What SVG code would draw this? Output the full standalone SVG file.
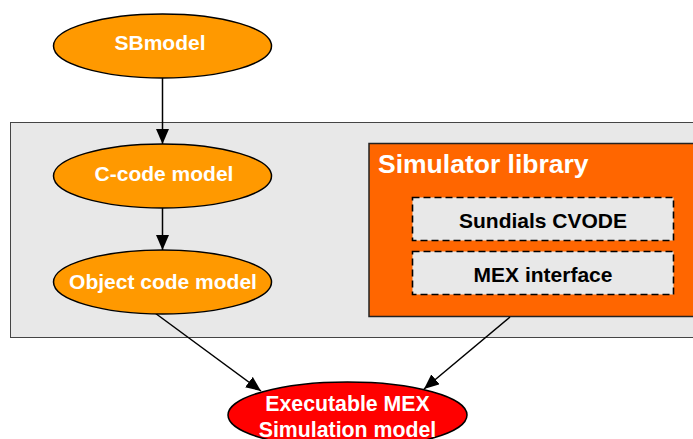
<svg xmlns="http://www.w3.org/2000/svg" width="693" height="439" viewBox="0 0 693 439">
<defs>
<style>
.ell{fill:#FF9900;stroke:#000;stroke-width:1.5}
.wt{font-family:"Liberation Sans",Arial,sans-serif;font-weight:bold;fill:#fff;text-anchor:middle}
.bt{font-family:"Liberation Sans",Arial,sans-serif;font-weight:bold;fill:#000;text-anchor:middle;font-size:21px}
.dash{fill:#E8E8E8;stroke:#000;stroke-width:1.6;stroke-dasharray:7,4}
.conn{stroke:#000;stroke-width:1.5;fill:none;marker-end:url(#ah)}
</style>
<marker id="ah" viewBox="0 0 15 13" refX="15" refY="6.5" markerWidth="15" markerHeight="13" markerUnits="userSpaceOnUse" orient="auto">
<path d="M0,0 L15,6.5 L0,13 Z" fill="#000"/>
</marker>
</defs>
<g id="panel">
<rect x="10.5" y="122.5" width="700" height="215" fill="#E8E8E8" stroke="#444" stroke-width="1"/>
</g>
<g id="simlib">
<rect x="369" y="143.5" width="340" height="173" fill="#FF6600" stroke="#222" stroke-width="1.5"/>
<text x="378" y="173" class="wt" style="text-anchor:start;font-size:26.5px">Simulator library</text>
</g>
<g id="sundials">
<rect x="412.5" y="197.5" width="261" height="43" class="dash"/>
<text x="543" y="228" class="bt">Sundials CVODE</text>
</g>
<g id="mexif">
<rect x="412.5" y="251.5" width="261" height="43" class="dash"/>
<text x="543" y="282" class="bt">MEX interface</text>
</g>
<g id="connectors">
<line x1="162.5" y1="78" x2="162.5" y2="144" class="conn"/>
<line x1="162.5" y1="208" x2="162.5" y2="250" class="conn"/>
<line x1="155" y1="313" x2="261" y2="391" class="conn"/>
<line x1="510" y1="317" x2="424" y2="389" class="conn"/>
</g>
<g id="sbmodel">
<ellipse cx="162.5" cy="46" rx="109" ry="32" class="ell"/>
<text x="160" y="50" class="wt" style="font-size:21px">SBmodel</text>
</g>
<g id="ccode">
<ellipse cx="162.5" cy="176" rx="109" ry="32" class="ell"/>
<text x="164" y="181" class="wt" style="font-size:21px">C-code model</text>
</g>
<g id="objcode">
<ellipse cx="162.5" cy="282" rx="109" ry="32" class="ell"/>
<text x="163" y="289" class="wt" style="font-size:21px">Object code model</text>
</g>
<g id="exec">
<ellipse cx="347.5" cy="415" rx="119.5" ry="33" fill="#FF0000" stroke="#000" stroke-width="1.5"/>
<text x="347.5" y="411" class="wt" style="font-size:21.3px">Executable MEX</text>
<text x="347.5" y="437" class="wt" style="font-size:21.3px">Simulation model</text>
</g>
</svg>
